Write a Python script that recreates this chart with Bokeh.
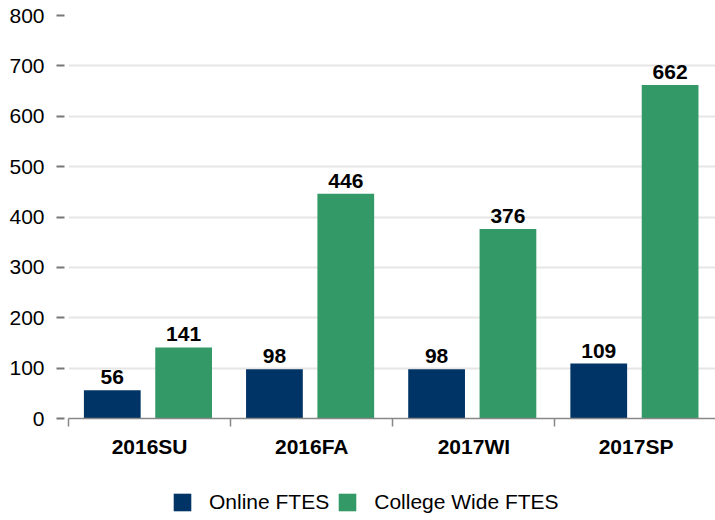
from bokeh.plotting import figure
from bokeh.layouts import column
from bokeh.models import Range1d, FixedTicker, SingleIntervalTicker, Legend, LegendItem, ColumnDataSource
from bokeh.transform import dodge
from bokeh.core.properties import value
from bokeh.embed import file_html
from bokeh.resources import INLINE

categories = ["2016SU", "2016FA", "2017WI", "2017SP"]
online = [56, 98, 98, 109]
college = [141, 446, 376, 662]
series_names = ["Online FTES", "College Wide FTES"]
y_max = 800
y_step = 100

FONT = "Liberation Sans"
BLUE = "#003366"
GREEN = "#339966"

xc = [i + 0.5 for i in range(len(categories))]
src = ColumnDataSource(dict(
    x=xc, online=online, college=college,
    ol=[str(v) for v in online], cl=[str(v) for v in college],
))

p = figure(width=715, height=480, output_backend="svg", toolbar_location=None,
           x_range=Range1d(0, 3.99), y_range=Range1d(0, y_max),
           min_border_left=68, min_border_right=0, min_border_top=15, min_border_bottom=62)
p.outline_line_color = None
p.background_fill_color = "white"

r1 = p.vbar(x=dodge("x", -0.23), top="online", width=0.35, source=src,
            fill_color=BLUE, line_color=None)
r2 = p.vbar(x=dodge("x", 0.21), top="college", width=0.35, source=src,
            fill_color=GREEN, line_color=None)

for xoff, col in [(-0.23, "online"), (0.21, "college")]:
    p.text(x=dodge("x", xoff), y=col, text="ol" if col == "online" else "cl", source=src,
           text_align="center", text_baseline="bottom", y_offset=-6,
           text_font=value(FONT), text_font_style="bold", text_font_size="21px",
           text_color="#000000")

# x axis
xa = p.xaxis[0]
xa.ticker = FixedTicker(ticks=xc, minor_ticks=list(range(len(categories) + 1)))
xa.major_label_overrides = {x: c for x, c in zip(xc, categories)}
xa.major_tick_line_color = None
xa.major_tick_in = 0
xa.major_tick_out = 8
xa.minor_tick_in = 0
xa.minor_tick_out = 8
xa.minor_tick_line_color = "#888888"
xa.minor_tick_line_width = 1.5
xa.axis_line_color = "#888888"
xa.axis_line_width = 1.5
xa.major_label_standoff = 8
xa.major_label_text_font = FONT
xa.major_label_text_font_style = "bold"
xa.major_label_text_font_size = "21px"
xa.major_label_text_color = "#000000"

# y axis
ya = p.yaxis[0]
ya.ticker = SingleIntervalTicker(interval=y_step, num_minor_ticks=0)
ya.axis_line_color = None
ya.major_tick_in = -4
ya.major_tick_out = 12
ya.major_tick_line_color = "#777777"
ya.major_tick_line_width = 2
ya.minor_tick_line_color = None
ya.major_label_standoff = 12
ya.major_label_text_font = FONT
ya.major_label_text_font_size = "21px"
ya.major_label_text_color = "#000000"

p.xgrid.grid_line_color = None
p.ygrid.grid_line_color = "#e6e6e6"
p.ygrid.grid_line_width = 2

# legend strip (renderers share the data but lie outside this strip's range)
lp = figure(width=715, height=40, output_backend="svg", toolbar_location=None,
            x_range=Range1d(-10, -9), y_range=Range1d(-10, -9),
            x_axis_location=None, y_axis_location=None,
            min_border_left=0, min_border_right=0, min_border_top=0, min_border_bottom=0)
lp.outline_line_color = None
lp.xgrid.visible = False
lp.ygrid.visible = False
g1 = lp.vbar(x="x", top="online", width=0.35, source=src, fill_color=BLUE, line_color=None)
g2 = lp.vbar(x="x", top="college", width=0.35, source=src, fill_color=GREEN, line_color=None)

legend = Legend(items=[LegendItem(label=series_names[0], renderers=[g1]),
                       LegendItem(label=series_names[1], renderers=[g2])],
                orientation="horizontal", location=(103, 6),
                glyph_width=22, glyph_height=22, label_standoff=16, spacing=7,
                padding=0, margin=0, border_line_color=None, background_fill_alpha=0,
                label_text_font=FONT, label_text_font_size="21px", label_height=22,
                label_text_color="#000000")
lp.add_layout(legend)

open("out.html", "w").write(file_html(column(p, lp, spacing=0), INLINE))
